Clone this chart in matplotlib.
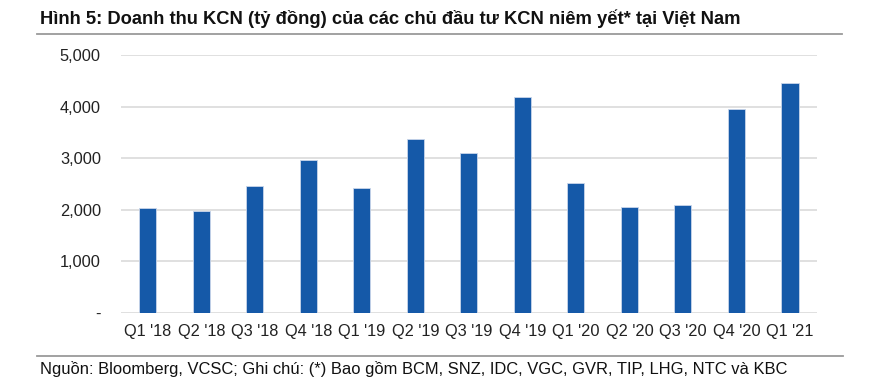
import matplotlib.pyplot as plt
from matplotlib.lines import Line2D
from matplotlib.ticker import FuncFormatter

plt.rcParams["font.family"] = ["Liberation Sans", "DejaVu Sans"]

quarters = ["Q1 '18", "Q2 '18", "Q3 '18", "Q4 '18", "Q1 '19", "Q2 '19", "Q3 '19",
            "Q4 '19", "Q1 '20", "Q2 '20", "Q3 '20", "Q4 '20", "Q1 '21"]
revenue = [2040, 1985, 2465, 2965, 2420, 3370, 3100, 4190, 2515, 2060, 2090, 3950, 4465]
y_ticks = [0, 1000, 2000, 3000, 4000, 5000]

title = "Hình 5: Doanh thu KCN (tỷ đồng) của các chủ đầu tư KCN niêm yết* tại Việt Nam"
source = "Nguồn: Bloomberg, VCSC; Ghi chú: (*) Bao gồm BCM, SNZ, IDC, VGC, GVR, TIP, LHG, NTC và KBC"


def fmt(v, pos):
    return "-" if v == 0 else f"{v:,.0f}"


W, H = 869, 387
fig = plt.figure(figsize=(W / 100, H / 100), dpi=100)
ax = fig.add_axes([121 / W, 1 - 312.7 / H, (816.7 - 121) / W, (312.7 - 55.3) / H])

x = range(len(quarters))
ax.bar(x, revenue, width=0.32, color="#1559A8", edgecolor="#C9D6EA", linewidth=0.6, zorder=3)

ax.set_xlim(-0.5, len(quarters) - 0.5)
ax.set_ylim(0, 5000)
ax.set_yticks(y_ticks)
ax.yaxis.set_major_formatter(FuncFormatter(fmt))
ax.set_xticks(list(x), labels=quarters)
ax.grid(axis="y", color="#DADADA", linewidth=1.2, zorder=0)
for s in ax.spines.values():
    s.set_visible(False)
ax.tick_params(axis="both", length=0, labelsize=11.8, colors="#222222")
ax.tick_params(axis="y", pad=14.5)
ax.tick_params(axis="x", pad=8)

fig.text(40 / W, 1 - 19 / H, title, fontsize=13.2, fontweight="bold",
         va="center", ha="left", color="#111111")
fig.add_artist(Line2D([37 / W, 842 / W], [1 - 34 / H] * 2, color="#9A9A9A", linewidth=1.3))
fig.add_artist(Line2D([37 / W, 843 / W], [1 - 356 / H] * 2, color="#9A9A9A", linewidth=1.3))
fig.text(40 / W, 1 - 369 / H, source, fontsize=11.85, va="center", ha="left", color="#111111")

fig.savefig("out.png", dpi=100)
